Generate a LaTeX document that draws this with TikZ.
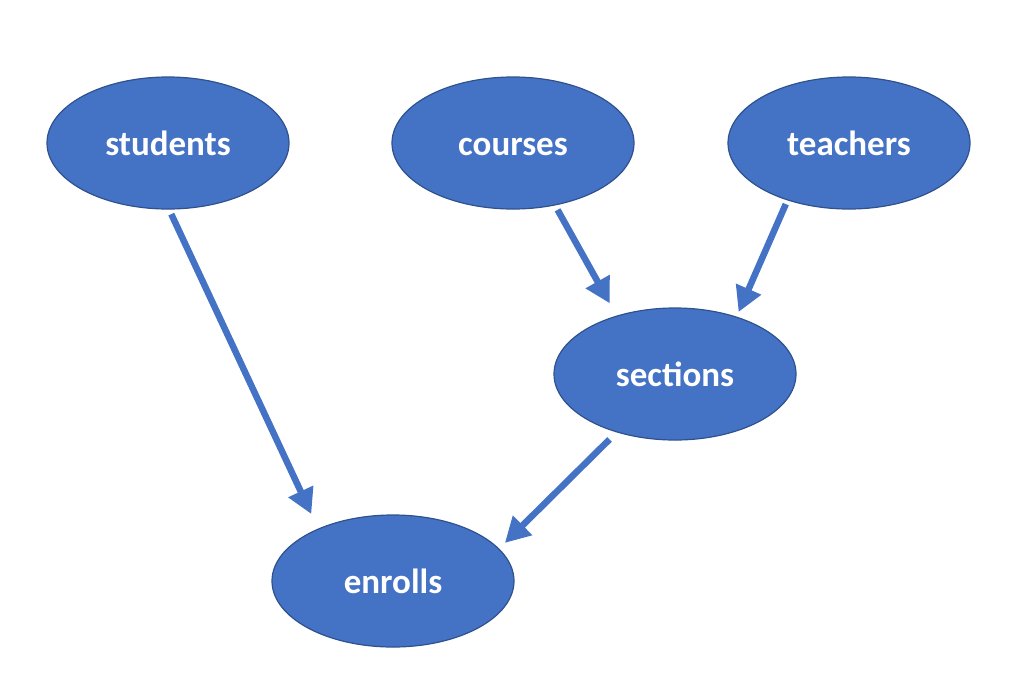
\documentclass[tikz,border=0pt]{standalone}
\usepackage{fontspec}
\setmainfont{Carlito}
\usetikzlibrary{arrows.meta,shapes.geometric}
\definecolor{entityfill}{HTML}{4472C4}
\definecolor{entityline}{HTML}{2F528F}
\begin{document}
\begin{tikzpicture}[x=1pt,y=-1pt,
  entity/.style={ellipse, fill=entityfill, draw=entityline, line width=1.2pt,
    minimum width=242pt, minimum height=132pt, inner sep=0pt,
    text height=24pt, text depth=0pt,
    text=white, font=\fontsize{35}{40}\selectfont\bfseries},
  link/.style={draw=entityfill, line width=6.5pt,
    -{Triangle[width=26pt,length=25pt]}}]
\useasboundingbox (0,0) rectangle (1024,678);

\node[entity] (students) at (168,143) {students};
\node[entity] (courses)  at (513,143) {courses};
\node[entity] (teachers) at (849,143) {teachers};
\node[entity] (sections) at (675,374) {sections};
\node[entity] (enrolls)  at (393,581) {enrolls};

\draw[link, shorten <=5pt, shorten >=16pt] (students.-89) -- (enrolls.145);
\draw[link, shorten <=5pt, shorten >=14pt] (courses.-56) -- (sections.135);
\draw[link, shorten <=4pt, shorten >=5pt] (teachers.223) -- (sections.43);
\draw[link, shorten <=10pt, shorten >=8pt] (sections.225) -- (enrolls.17);
\end{tikzpicture}
\end{document}
